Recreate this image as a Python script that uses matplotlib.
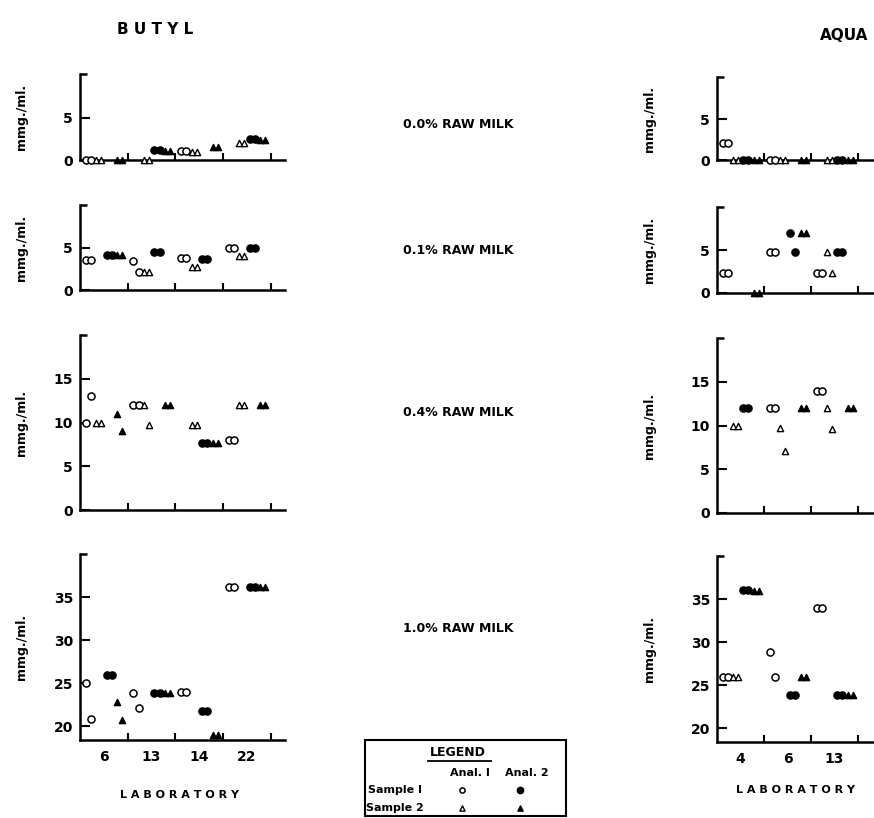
import matplotlib
matplotlib.use("Agg")
import matplotlib.pyplot as plt
from matplotlib.ticker import FixedLocator, NullFormatter

# Figure text
milk_levels = ["0.0% RAW MILK", "0.1% RAW MILK", "0.4% RAW MILK", "1.0% RAW MILK"]
butyl_labs = ["6", "13", "14", "22"]
aqua_labs = ["4", "6", "13"]
y_ticks = [[0, 5], [0, 5], [0, 5, 10, 15], [20, 25, 30, 35]]
y_limits = [(0, 10.2), (0, 10.1), (0, 20), (18.4, 40)]

# mmg./ml. readings: one row per milk level, one list per laboratory (two replicates)
# Sample 1 / Anal. 1 (open circles)
butyl_s1_a1 = [
    [[0, 0], [], [1.1, 1.1], []],
    [[3.6, 3.6], [3.4, 2.1], [3.8, 3.8], [5.0, 5.0]],
    [[10, 13], [12, 12], [], [8, 8]],
    [[25, 20.8], [23.9, 22.1], [24, 24], [36.2, 36.2]],
]
# Sample 2 / Anal. 1 (open triangles)
butyl_s2_a1 = [
    [[0, 0], [0, 0], [1.0, 1.0], [2.0, 2.0]],
    [[], [2.1, 2.1], [2.7, 2.7], [4.0, 4.0]],
    [[10, 10], [12, 9.7], [9.7, 9.7], [12, 12]],
    [[], [], [], []],
]
# Sample 1 / Anal. 2 (filled circles)
butyl_s1_a2 = [
    [[], [1.2, 1.2], [], [2.5, 2.5]],
    [[4.2, 4.2], [4.5, 4.5], [3.7, 3.7], [5.0, 5.0]],
    [[], [], [7.7, 7.7], []],
    [[26, 26], [23.9, 23.9], [21.8, 21.8], [36.2, 36.2]],
]
# Sample 2 / Anal. 2 (filled triangles)
butyl_s2_a2 = [
    [[0, 0], [1.1, 1.1], [1.6, 1.6], [2.4, 2.4]],
    [[4.2, 4.2], [], [], []],
    [[11, 9], [12, 12], [7.7, 7.7], [12, 12]],
    [[22.8, 20.7], [23.9, 23.9], [19, 19], [36.2, 36.2]],
]

aqua_s1_a1 = [
    [[2.1, 2.1], [0, 0], []],
    [[2.3, 2.3], [4.8, 4.8], [2.3, 2.3]],
    [[], [12, 12], [14, 14]],
    [[25.9, 25.9], [28.9, 25.9], [34, 34]],
]
aqua_s2_a1 = [
    [[0, 0], [0, 0], [0, 0]],
    [[], [], [4.8, 2.3]],
    [[10, 10], [9.7, 7.1], [12, 9.6]],
    [[25.9, 25.9], [], []],
]
aqua_s1_a2 = [
    [[0, 0], [], [0, 0]],
    [[], [7.1, 4.8], [4.8, 4.8]],
    [[12, 12], [], []],
    [[36.1, 36.1], [23.9, 23.9], [23.9, 23.9]],
]
aqua_s2_a2 = [
    [[0, 0], [0, 0], [0, 0]],
    [[0, 0], [7.1, 7.1], []],
    [[], [12, 12], [12, 12]],
    [[35.9, 35.9], [25.9, 25.9], [23.9, 23.9]],
]

W, H = 874, 818
fig = plt.figure(figsize=(W / 100, H / 100), dpi=100)
plt.rcParams['font.family'] = ['DejaVu Sans']

def box(left, top, right, bottom):
    return [left / W, 1 - bottom / H, (right - left) / W, (bottom - top) / H]

# pixel frames of the panels (top, bottom)
butyl_rows = [(74, 160), (205, 290), (335, 510), (554, 740)]
aqua_rows = [(77, 160), (207, 293), (338, 513), (556, 742)]

# marker styles and slot offset inside a laboratory column
styles = [
    dict(marker='o', facecolors='white', edgecolors='black', s=26, linewidths=1.1),
    dict(marker='^', facecolors='white', edgecolors='black', s=20, linewidths=1.0),
    dict(marker='o', facecolors='black', edgecolors='black', s=26, linewidths=1.1),
    dict(marker='^', facecolors='black', edgecolors='black', s=20, linewidths=1.0),
]
slot_start = [0.12, 0.34, 0.56, 0.78]
slot_step = 0.11


def draw_panel(ax, series, row, labs, ylim, yt, last):
    for k, data in enumerate(series):
        for i, reps in enumerate(data[row]):
            xs = [i + slot_start[k] + j * slot_step for j in range(len(reps))]
            if reps:
                ax.scatter(xs, reps, clip_on=False, zorder=3, **styles[k])
    ax.set_xlim(0, 4.3)
    ax.set_ylim(*ylim)
    for s in ['top', 'right']:
        ax.spines[s].set_visible(False)
    for s in ['left', 'bottom']:
        ax.spines[s].set_linewidth(1.8)
    ax.set_xticks([i + 1 for i in range(4)])
    ax.set_xticklabels([])
    ax.xaxis.set_minor_locator(FixedLocator([i + 0.5 for i in range(len(labs))]))
    if last:
        ax.set_xticklabels(labs, minor=True, fontsize=10, fontweight='bold')
    else:
        ax.xaxis.set_minor_formatter(NullFormatter())
    ax.tick_params(axis='x', which='major', direction='in', length=5, width=1.5)
    ax.tick_params(axis='x', which='minor', length=0, pad=7)
    ax.set_yticks(yt)
    ax.set_yticklabels([str(v) for v in yt], fontsize=10, fontweight='bold')
    ax.yaxis.set_minor_locator(FixedLocator([ylim[1]]))
    ax.tick_params(axis='y', which='major', direction='in', length=7, width=1.5, pad=5)
    ax.tick_params(axis='y', which='minor', direction='in', length=5, width=1.8)
    ax.set_ylabel("mmg./ml.", fontsize=9, fontweight='bold')
    ax.patch.set_alpha(0)


butyl = [butyl_s1_a1, butyl_s2_a1, butyl_s1_a2, butyl_s2_a2]
aqua = [aqua_s1_a1, aqua_s2_a1, aqua_s1_a2, aqua_s2_a2]

for r in range(4):
    top, bottom = butyl_rows[r]
    ax = fig.add_axes(box(80, top, 285, bottom))
    draw_panel(ax, butyl, r, butyl_labs, y_limits[r], y_ticks[r], r == 3)
    ax.yaxis.set_label_coords(-0.255, 0.5)
    top, bottom = aqua_rows[r]
    ax2 = fig.add_axes(box(717, top, 919, bottom))
    draw_panel(ax2, aqua, r, aqua_labs, y_limits[r], y_ticks[r], r == 3)
    ax2.yaxis.set_label_coords(-0.3, 0.5)

# headings and centre labels
fig.text(155 / W, 1 - 30 / H, "B U T Y L", fontsize=11, fontweight='bold', ha='center', va='center')
fig.text(844 / W, 1 - 36 / H, "AQUA", fontsize=11, fontweight='bold', ha='center', va='center')
for lbl, y in zip(milk_levels, [125, 250, 413, 628]):
    fig.text(458 / W, 1 - y / H, lbl, fontsize=9, fontweight='bold', ha='center', va='center')
fig.text(180 / W, 1 - 795 / H, "L A B O R A T O R Y", fontsize=8, fontweight='bold', ha='center', va='center')
fig.text(795 / W, 1 - 790 / H, "L A B O R A T O R Y", fontsize=8, fontweight='bold', ha='center', va='center')

# legend box
lg = fig.add_axes(box(365, 740, 566, 816))
lg.set_xlim(365, 566)
lg.set_ylim(816, 740)
lg.set_xticks([])
lg.set_yticks([])
for s in lg.spines.values():
    s.set_linewidth(1.5)
lg.text(458, 752, "LEGEND", fontsize=9, fontweight='bold', ha='center', va='center')
lg.plot([428, 491], [761, 761], color='black', lw=1.3)
lg.text(470, 773, "Anal. I", fontsize=8, fontweight='bold', ha='center', va='center')
lg.text(527, 773, "Anal. 2", fontsize=8, fontweight='bold', ha='center', va='center')
lg.text(395, 790, "Sample I", fontsize=8, fontweight='bold', ha='center', va='center')
lg.text(395, 808, "Sample 2", fontsize=8, fontweight='bold', ha='center', va='center')
lg.scatter([462], [790], **dict(styles[0], s=14))
lg.scatter([520], [790], **dict(styles[2], s=20))
lg.scatter([462], [808], **dict(styles[1], s=14))
lg.scatter([520], [808], **dict(styles[3], s=14))

fig.savefig("out.png", dpi=100)
